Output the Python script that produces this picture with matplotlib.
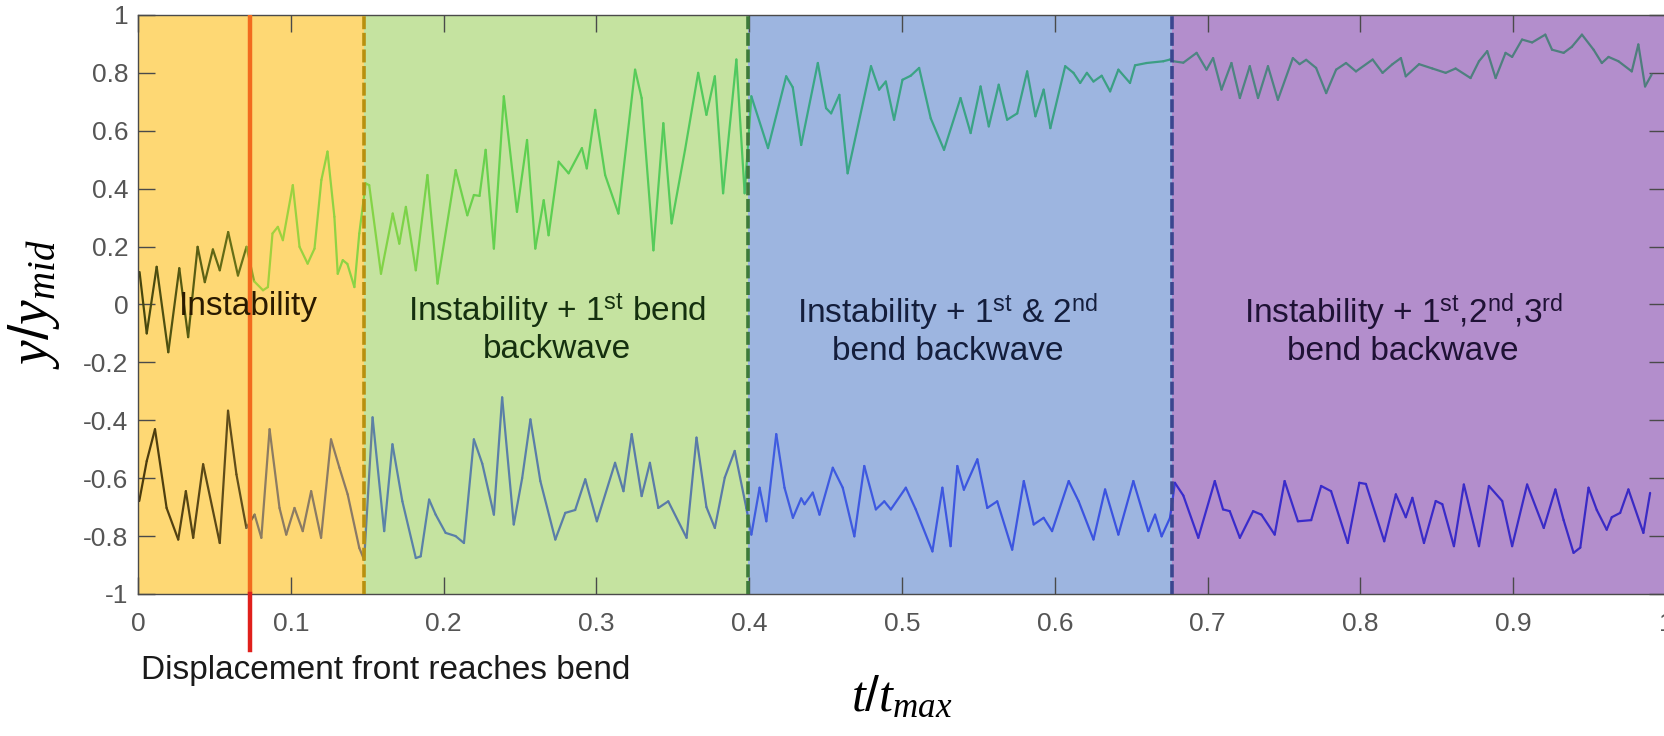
import numpy as np
import matplotlib
matplotlib.use("Agg")
import matplotlib.pyplot as plt
import matplotlib.transforms as mtransforms
from matplotlib.collections import LineCollection
from matplotlib.colors import to_rgb

plt.rcParams['font.family'] = ['Liberation Sans', 'DejaVu Sans']
plt.rcParams['mathtext.fontset'] = 'custom'
plt.rcParams['mathtext.rm'] = 'Liberation Sans'
plt.rcParams['mathtext.it'] = 'Liberation Serif:italic'

# regime boundaries (t/t_max)
bounds = [0.0, 0.148, 0.399, 0.677, 1.0]
region_colors = ["#fed874", "#c5e3a0", "#9db5e0", "#b38ecc"]
edge_colors = ["#b8900f", "#3d7a3a", "#3a468f"]
region_text = ["Instability",
               "Instability + 1$^{\\mathrm{st}}$ bend\nbackwave",
               "Instability + 1$^{\\mathrm{st}}$ & 2$^{\\mathrm{nd}}$\nbend backwave",
               "Instability + 1$^{\\mathrm{st}}$,2$^{\\mathrm{nd}}$,3$^{\\mathrm{rd}}$\nbend backwave"]
text_x = [0.072, 0.274, 0.53, 0.828]
text_colors = ["#2a1a00", "#15300f", "#141e3c", "#1f1235"]
front_x = 0.073

# upper wall trace
top_t = [0.001, 0.0057, 0.0122, 0.0198, 0.027, 0.0328, 0.039, 0.0437, 0.049, 0.0535,
         0.059, 0.0654, 0.071, 0.076, 0.0818, 0.085, 0.088, 0.0915, 0.0948, 0.1013,
         0.1057, 0.111, 0.1155, 0.12, 0.124, 0.1285, 0.1307, 0.134, 0.137, 0.1416,
         0.1448, 0.149, 0.1513, 0.159, 0.1667, 0.171, 0.1753, 0.1818, 0.1894, 0.196,
         0.2079, 0.2155, 0.2198, 0.2235, 0.2275, 0.2329, 0.2394, 0.248, 0.2546, 0.26,
         0.2655, 0.2687, 0.2753, 0.2818, 0.2905, 0.2937, 0.2992, 0.3057, 0.3144, 0.3253,
         0.3296, 0.3373, 0.3438, 0.3492, 0.358, 0.3666, 0.372, 0.3775, 0.3829, 0.3916,
         0.397, 0.4014, 0.4123, 0.4242, 0.4285, 0.434, 0.4449, 0.4503, 0.4536, 0.459,
         0.4644, 0.4797, 0.485, 0.4894, 0.4948, 0.5003, 0.5057, 0.5112, 0.5188, 0.5275,
         0.5383, 0.5449, 0.5514, 0.5568, 0.5633, 0.5688, 0.5754, 0.5819, 0.5873, 0.5927,
         0.5971, 0.6068, 0.6122, 0.6166, 0.6210, 0.6253, 0.6307, 0.6362, 0.6416, 0.6492,
         0.6525, 0.6601, 0.671, 0.6754, 0.6776, 0.6841, 0.6928, 0.6993, 0.7036, 0.7091,
         0.7156, 0.7211, 0.7276, 0.733, 0.7395, 0.746, 0.7558, 0.7602, 0.7645, 0.771,
         0.7776, 0.7841, 0.7906, 0.7971, 0.808, 0.8145, 0.8210, 0.8265, 0.8297, 0.8384,
         0.8471, 0.8558, 0.8623, 0.8721, 0.8776, 0.883, 0.8885, 0.895, 0.8993, 0.9058,
         0.9124, 0.921, 0.9254, 0.933, 0.9384, 0.945, 0.9526, 0.958, 0.9624, 0.9689,
         0.9776, 0.9819, 0.9863, 0.9906]
top_y = [0.112, -0.10, 0.13, -0.165, 0.125, -0.113, 0.199, 0.077, 0.19, 0.118,
         0.25, 0.10, 0.199, 0.08, 0.049, 0.06, 0.245, 0.268, 0.222, 0.412,
         0.199, 0.141, 0.193, 0.43, 0.528, 0.303, 0.106, 0.153, 0.14, 0.06,
         0.245, 0.418, 0.412, 0.106, 0.314, 0.21, 0.337, 0.118, 0.447, 0.072,
         0.464, 0.308, 0.378, 0.375, 0.534, 0.193, 0.719, 0.32, 0.568, 0.193,
         0.36, 0.239, 0.493, 0.453, 0.54, 0.47, 0.672, 0.447, 0.314, 0.811,
         0.713, 0.187, 0.626, 0.28, 0.534, 0.80, 0.655, 0.788, 0.384, 0.846,
         0.384, 0.719, 0.54, 0.788, 0.75, 0.551, 0.834, 0.678, 0.66, 0.724,
         0.453, 0.823, 0.742, 0.77, 0.638, 0.776, 0.79, 0.817, 0.643, 0.534,
         0.713, 0.592, 0.753, 0.615, 0.759, 0.638, 0.66, 0.805, 0.65, 0.742,
         0.609, 0.823, 0.80, 0.765, 0.80, 0.77, 0.79, 0.736, 0.811, 0.765,
         0.826, 0.834, 0.84, 0.846, 0.84, 0.835, 0.869, 0.811, 0.851, 0.742,
         0.834, 0.713, 0.823, 0.713, 0.823, 0.707, 0.851, 0.83, 0.845, 0.817,
         0.73, 0.811, 0.834, 0.805, 0.846, 0.80, 0.83, 0.851, 0.788, 0.83,
         0.815, 0.80, 0.815, 0.782, 0.84, 0.875, 0.782, 0.869, 0.855, 0.915,
         0.905, 0.932, 0.88, 0.869, 0.89, 0.932, 0.88, 0.834, 0.855, 0.84,
         0.805, 0.898, 0.753, 0.794]

# lower wall trace
bot_t = [0.0008, 0.0057, 0.0111, 0.0187, 0.0263, 0.0313, 0.0361, 0.0426, 0.0535, 0.0589,
         0.0644, 0.0709, 0.0763, 0.0807, 0.0861, 0.0926, 0.097, 0.1024, 0.1078, 0.1133,
         0.1198, 0.1263, 0.1318, 0.1372, 0.1448, 0.148, 0.1535, 0.1611, 0.1665, 0.1730,
         0.1818, 0.1850, 0.1905, 0.1948, 0.2013, 0.2078, 0.2133, 0.2198, 0.2253, 0.2329,
         0.2383, 0.2459, 0.2514, 0.2568, 0.2633, 0.2731, 0.2796, 0.2861, 0.2927, 0.3003,
         0.3122, 0.3177, 0.3231, 0.3296, 0.335, 0.3405, 0.3470, 0.359, 0.3655, 0.3720,
         0.3775, 0.384, 0.3905, 0.3981, 0.4014, 0.4068, 0.4112, 0.4177, 0.4231, 0.4286,
         0.4340, 0.4362, 0.4416, 0.446, 0.4547, 0.4612, 0.4688, 0.4753, 0.4829, 0.4884,
         0.4927, 0.5025, 0.5090, 0.5199, 0.5264, 0.5318, 0.5362, 0.5405, 0.5493, 0.5558,
         0.5623, 0.5721, 0.5797, 0.5862, 0.5927, 0.5982, 0.6091, 0.6156, 0.6253, 0.6329,
         0.6416, 0.6514, 0.6612, 0.6656, 0.6699, 0.6754, 0.6786, 0.6841, 0.6939, 0.7047,
         0.7101, 0.7145, 0.7211, 0.7298, 0.7352, 0.7439, 0.7504, 0.7591, 0.7678, 0.7743,
         0.7808, 0.7917, 0.7993, 0.8036, 0.8156, 0.8232, 0.8297, 0.834, 0.8416, 0.8493,
         0.8536, 0.8612, 0.8677, 0.8776, 0.8841, 0.8928, 0.8993, 0.9091, 0.92, 0.9276,
         0.9330, 0.9395, 0.9439, 0.9493, 0.9547, 0.9612, 0.9645, 0.9700, 0.9754, 0.9852,
         0.9896]
bot_y = [-0.679, -0.541, -0.431, -0.703, -0.812, -0.645, -0.806, -0.552, -0.824, -0.367,
         -0.587, -0.772, -0.726, -0.806, -0.431, -0.703, -0.795, -0.703, -0.783, -0.645,
         -0.806, -0.466, -0.564, -0.656, -0.841, -0.882, -0.39, -0.783, -0.483, -0.68,
         -0.876, -0.87, -0.674, -0.726, -0.789, -0.80, -0.824, -0.466, -0.55, -0.726,
         -0.321, -0.76, -0.60, -0.397, -0.61, -0.812, -0.72, -0.71, -0.604, -0.749,
         -0.547, -0.645, -0.448, -0.662, -0.547, -0.703, -0.68, -0.806, -0.46, -0.70,
         -0.772, -0.598, -0.506, -0.703, -0.795, -0.633, -0.749, -0.448, -0.633, -0.737,
         -0.67, -0.69, -0.65, -0.726, -0.564, -0.633, -0.801, -0.558, -0.708, -0.68,
         -0.708, -0.633, -0.708, -0.853, -0.633, -0.835, -0.558, -0.64, -0.535, -0.703,
         -0.68, -0.847, -0.61, -0.76, -0.737, -0.783, -0.61, -0.68, -0.812, -0.639,
         -0.795, -0.61, -0.783, -0.726, -0.801, -0.737, -0.616, -0.66, -0.806, -0.61,
         -0.708, -0.714, -0.806, -0.714, -0.726, -0.795, -0.61, -0.749, -0.745, -0.627,
         -0.645, -0.824, -0.616, -0.62, -0.818, -0.656, -0.735, -0.668, -0.824, -0.679,
         -0.69, -0.835, -0.622, -0.835, -0.627, -0.679, -0.835, -0.622, -0.772, -0.639,
         -0.745, -0.858, -0.84, -0.633, -0.71, -0.778, -0.735, -0.72, -0.639, -0.789,
         -0.651]

# colour drift along each trace (position, colour)
top_cstops = [(0.0, "#44440e"), (0.070, "#6a7418"), (0.076, "#a6d13c"), (0.15, "#86d446"),
              (0.25, "#5fd050"), (0.398, "#4fc860"), (0.402, "#3aa886"), (0.675, "#3c9e84"),
              (0.68, "#4e8582"), (1.0, "#4f7d7d")]
bot_cstops = [(0.0, "#4a3a0c"), (0.070, "#63501c"), (0.076, "#8c7c62"), (0.147, "#8a7a66"),
              (0.152, "#5a82a8"), (0.398, "#5a7aa8"), (0.402, "#3f5ce0"), (0.675, "#3a52e0"),
              (0.68, "#3a2ccc"), (1.0, "#3a2ac4")]


def trace_colors(t, stops):
    t = np.asarray(t)
    mid = 0.5 * (t[1:] + t[:-1])
    sx = [s[0] for s in stops]
    rgb = np.array([to_rgb(s[1]) for s in stops])
    return np.column_stack([np.interp(mid, sx, rgb[:, k]) for k in range(3)])


fig = plt.figure(figsize=(16.65, 7.36), dpi=100)
ax = fig.add_axes([0.0829, 0.193, 0.9177, 0.7867])

for i in range(4):
    ax.axvspan(bounds[i], bounds[i + 1], color=region_colors[i], lw=0, zorder=0)
for i in range(3):
    ax.axvline(bounds[i + 1], color=edge_colors[i], lw=2.6, dashes=(3.6, 1.0), zorder=3)

for t, y, stops in [(top_t, top_y, top_cstops), (bot_t, bot_y, bot_cstops)]:
    pts = np.column_stack([t, y]).reshape(-1, 1, 2)
    segs = np.concatenate([pts[:-1], pts[1:]], axis=1)
    lc = LineCollection(segs, colors=trace_colors(t, stops), linewidths=1.6, zorder=2,
                        capstyle='round', joinstyle='round')
    ax.add_collection(lc)

# displacement front marker
ax.axvline(front_x, color="#f26a1e", lw=3.2, zorder=4)
trans = mtransforms.blended_transform_factory(ax.transData, ax.transAxes)
ax.plot([front_x, front_x], [0, -0.097], color="#e0201c", lw=3.2, transform=trans,
        clip_on=False, zorder=4)
ax.text(0.002, -0.133, "Displacement front reaches bend", transform=trans,
        fontsize=24, color="#1a1a1a", ha='left', va='center')

for i in range(4):
    ax.text(text_x[i], 0.045, region_text[i], fontsize=24, color=text_colors[i],
            ha='center', va='top', linespacing=1.15, zorder=5)

ax.set_xlim(0, 1)
ax.set_ylim(-1, 1)
ax.set_xticks(np.arange(0, 1.01, 0.1))
ax.set_xticklabels(["0", "0.1", "0.2", "0.3", "0.4", "0.5", "0.6", "0.7", "0.8", "0.9", "1"])
ax.set_yticks(np.arange(-1, 1.01, 0.2))
ax.set_yticklabels(["-1", "-0.8", "-0.6", "-0.4", "-0.2", "0", "0.2", "0.4", "0.6", "0.8", "1"])
ax.tick_params(direction='in', length=12, width=1, color="#4a4a4a", labelcolor="#555555",
               labelsize=19, top=True, right=True)
ax.tick_params(axis='x', pad=13)
ax.tick_params(axis='y', pad=7)
for s in ax.spines.values():
    s.set_color("#4a4a4a")
    s.set_linewidth(1.0)

ax.set_xlabel(r"$t/t_{max}$", fontsize=36)
ax.xaxis.set_label_coords(0.5, -0.14)
ax.set_ylabel(r"$y/y_{mid}$", fontsize=40)
ax.yaxis.set_label_coords(-0.05, 0.5)

fig.savefig("out.png", dpi=100)
